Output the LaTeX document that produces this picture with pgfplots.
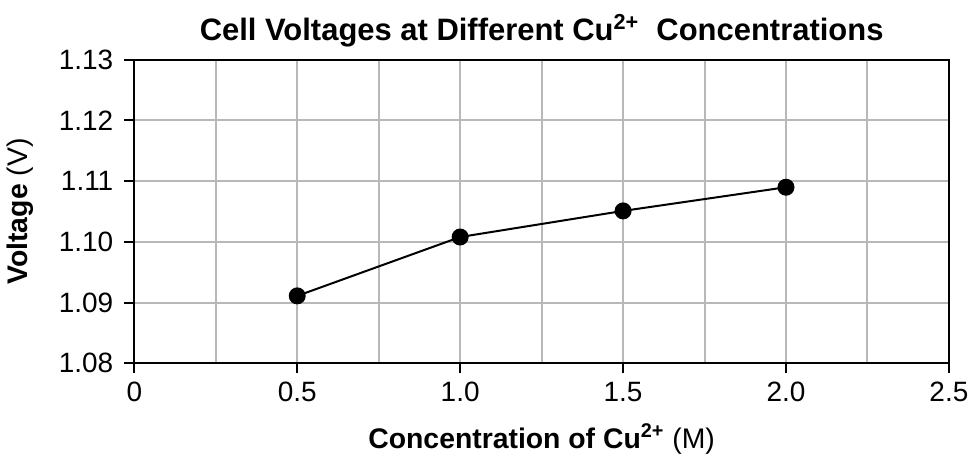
\documentclass[border=0pt]{standalone}
\usepackage{pgfplots}
\pgfplotsset{compat=1.18}
\usepackage{fontspec}
\setmainfont{Liberation Sans}
\definecolor{gridgray}{gray}{0.72}
\begin{document}
\begin{tikzpicture}
\begin{axis}[
  scale only axis,
  width=408pt, height=152pt,
  xmin=0, xmax=2.5, ymin=1.08, ymax=1.13,
  xtick={0,0.5,1,1.5,2,2.5},
  xticklabels={0,0.5,1.0,1.5,2.0,2.5},
  minor xtick={0.25,0.75,1.25,1.75,2.25},
  ytick={1.08,1.09,1.10,1.11,1.12,1.13},
  yticklabels={1.08,1.09,1.10,1.11,1.12,1.13},
  tick align=outside, tick pos=left,
  major tick length=5pt, minor tick length=0pt,
  xmajorgrids, ymajorgrids, xminorgrids,
  grid style={gridgray, line width=1pt},
  minor grid style={gridgray, line width=1pt},
  axis line style={line width=1pt},
  every tick/.style={black, line width=1pt},
  /pgf/number format/assume math mode=true,
  ticklabel style={font=\fontsize{14}{16}\selectfont},
  xticklabel style={yshift=-1pt},
  yticklabel style={xshift=-2pt},
  title={\textbf{Cell Voltages at Different Cu\textsuperscript{2+}\ \ Concentrations}},
  title style={font=\fontsize{15.5}{18}\selectfont, yshift=-3pt},
  xlabel={\textbf{Concentration of Cu\textsuperscript{2+}} (M)},
  ylabel={\textbf{Voltage} (V)},
  label style={font=\fontsize{14.2}{17}\selectfont},
  xlabel style={yshift=-4pt},
  ylabel style={yshift=6pt},
]
\addplot[black, line width=1pt, mark=*, mark size=3.75pt] coordinates {
  (0.5,1.0911) (1.0,1.1008) (1.5,1.1051) (2.0,1.1090)
};
\end{axis}
\path ([yshift=4pt]current bounding box.north) circle (0pt);
\end{tikzpicture}
\end{document}
